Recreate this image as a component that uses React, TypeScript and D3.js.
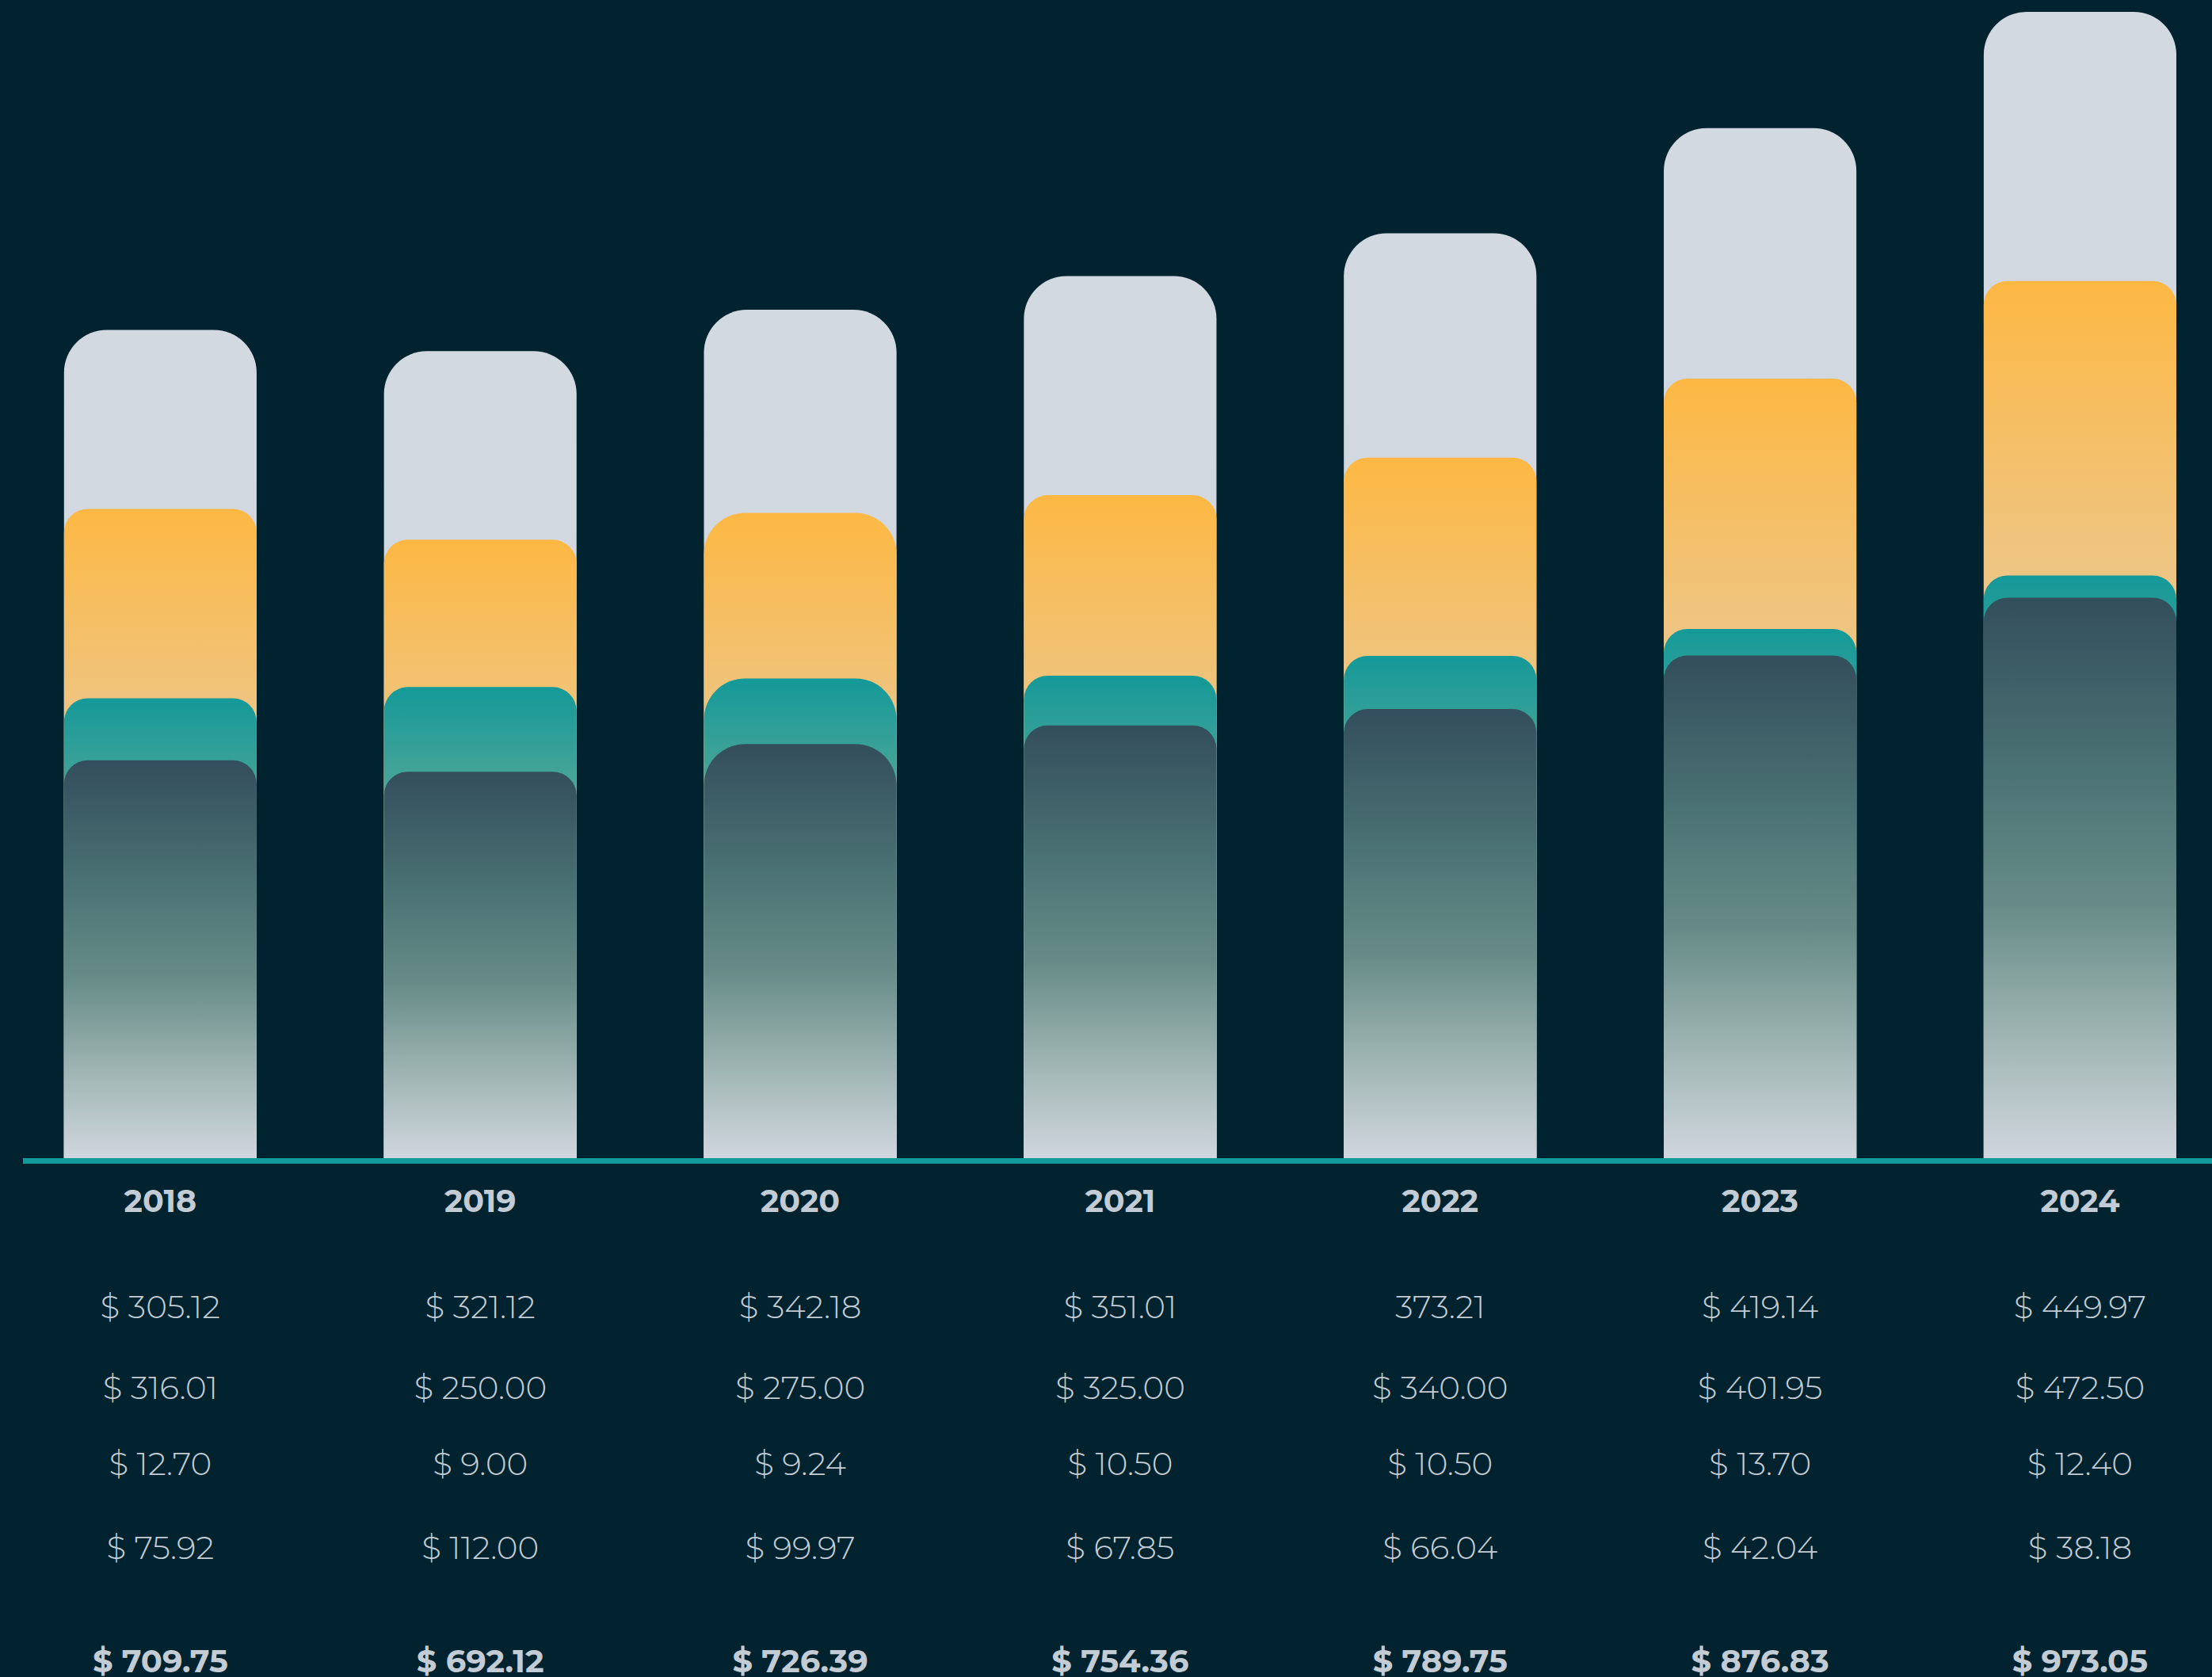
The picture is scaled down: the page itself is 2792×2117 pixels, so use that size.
import React from "react";
import * as d3 from "d3";

// ---------- data ----------
const years = ["2018", "2019", "2020", "2021", "2022", "2023", "2024"];
const totals = [709.75, 692.12, 726.39, 754.36, 789.75, 876.83, 973.05];
// visual layer tops (same units as totals)
const orangeTop = [561.5, 536.0, 558.2, 572.9, 604.0, 669.4, 750.2];
const tealTop = [404.8, 414.0, 421.2, 423.4, 439.9, 462.2, 506.4];
const darkTop = [353.4, 343.9, 366.8, 382.3, 395.8, 440.2, 488.0];

const row1Labels = ["$ 305.12", "$ 321.12", "$ 342.18", "$ 351.01", "373.21", "$ 419.14", "$ 449.97"];
const row2Labels = ["$ 316.01", "$ 250.00", "$ 275.00", "$ 325.00", "$ 340.00", "$ 401.95", "$ 472.50"];
const row3Labels = ["$ 12.70", "$ 9.00", "$ 9.24", "$ 10.50", "$ 10.50", "$ 13.70", "$ 12.40"];
const row4Labels = ["$ 75.92", "$ 112.00", "$ 99.97", "$ 67.85", "$ 66.04", "$ 42.04", "$ 38.18"];

// ---------- layout / style ----------
const W = 2792;
const H = 2117;
const BASE = 1462;
const BG = "#01222f";
const TEXT = "#c3ccd4";
const FONT = "Montserrat, 'Open Sans', sans-serif";
const largeRadiusYear = "2020";

const x = d3.scaleBand<string>().domain(years).range([80.8, 2747]).paddingInner(0.398).paddingOuter(0);
const y = d3.scaleLinear().domain([24, 973.05]).range([BASE, 15]);

function topRounded(x0: number, y0: number, w: number, h: number, r: number) {
  const rr = Math.min(r, w / 2, h);
  const p = d3.path();
  p.moveTo(x0, y0 + h);
  p.lineTo(x0, y0 + rr);
  p.arcTo(x0, y0, x0 + rr, y0, rr);
  p.lineTo(x0 + w - rr, y0);
  p.arcTo(x0 + w, y0, x0 + w, y0 + rr, rr);
  p.lineTo(x0 + w, y0 + h);
  p.closePath();
  return p.toString();
}

const layers = [
  { key: "grey", values: totals, fill: "url(#gGrey)" },
  { key: "orange", values: orangeTop, fill: "url(#gOrange)" },
  { key: "teal", values: tealTop, fill: "url(#gTeal)" },
  { key: "dark", values: darkTop, fill: "url(#gDark)" },
];

const textRows = [
  { labels: years, baseline: 1530, size: 39.5, weight: 700 },
  { labels: row1Labels, baseline: 1664, size: 40.5, weight: 300 },
  { labels: row2Labels, baseline: 1766, size: 40.5, weight: 300 },
  { labels: row3Labels, baseline: 1862, size: 40.5, weight: 300 },
  { labels: row4Labels, baseline: 1968, size: 40.5, weight: 300 },
  { labels: totals.map((t) => `$ ${d3.format(".2f")(t)}`), baseline: 2111, size: 40, weight: 700 },
];

export default function App() {
  const bw = x.bandwidth();
  return (
    <svg
      width={W}
      height={H}
      viewBox={`0 0 ${W} ${H}`}
      style={{ position: "absolute", left: 0, top: 0, display: "block" }}
    >
      <defs>
        <linearGradient id="gGrey" x1="0" y1="0" x2="0" y2="1">
          <stop offset="0" stopColor="#d2d9e1" />
          <stop offset="1" stopColor="#cfd6de" />
        </linearGradient>
        <linearGradient id="gOrange" x1="0" y1="0" x2="0" y2="1">
          <stop offset="0" stopColor="#fdb843" />
          <stop offset="0.3" stopColor="#efc47e" />
          <stop offset="1" stopColor="#d0d8e0" />
        </linearGradient>
        <linearGradient id="gTeal" x1="0" y1="0" x2="0" y2="1">
          <stop offset="0" stopColor="#149999" />
          <stop offset="0.18" stopColor="#42a397" />
          <stop offset="1" stopColor="#d0d8e0" />
        </linearGradient>
        <linearGradient id="gDark" x1="0" y1="0" x2="0" y2="1">
          <stop offset="0" stopColor="#334e5c" />
          <stop offset="0.3" stopColor="#4a7173" />
          <stop offset="0.55" stopColor="#678c88" />
          <stop offset="0.8" stopColor="#a3b8b6" />
          <stop offset="1" stopColor="#d0d6de" />
        </linearGradient>
      </defs>
      <rect x={0} y={0} width={W} height={H} fill={BG} />

      {layers.map((layer) => (
        <g key={layer.key}>
          {years.map((yr, i) => {
            const top = y(layer.values[i]);
            const r = layer.key === "grey" ? 54 : yr === largeRadiusYear ? 52 : 30;
            return (
              <path
                key={yr}
                d={topRounded(x(yr)!, top, bw, BASE - top, r)}
                fill={layer.fill}
              />
            );
          })}
        </g>
      ))}

      <rect x={29} y={BASE} width={W - 29} height={7} fill="#139a9a" />

      {textRows.map((row, ri) => (
        <g key={ri}>
          {row.labels.map((lab, i) => (
            <text
              key={i}
              x={x(years[i])! + bw / 2}
              y={row.baseline}
              textAnchor="middle"
              fontFamily={FONT}
              fontSize={row.size}
              fontWeight={row.weight}
              fill={TEXT}
            >
              {lab}
            </text>
          ))}
        </g>
      ))}
    </svg>
  );
}
